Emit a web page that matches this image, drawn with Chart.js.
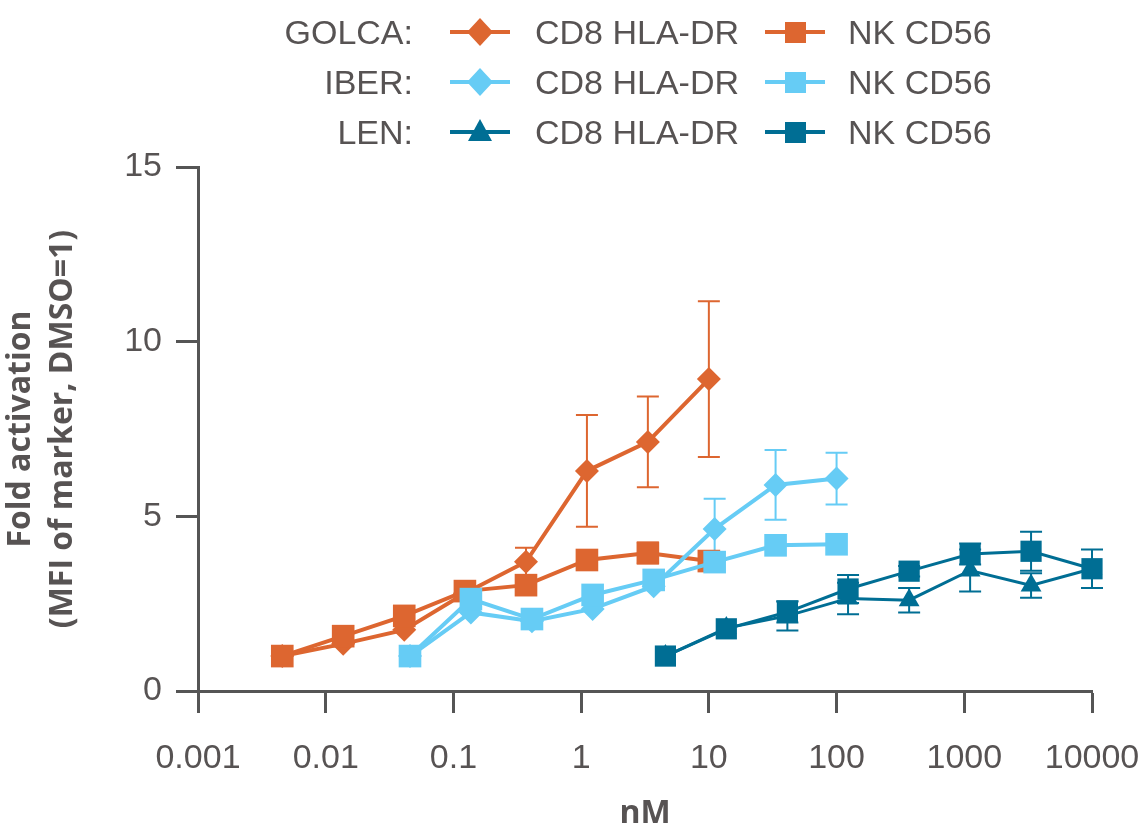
<!DOCTYPE html>
<html>
<head>
<meta charset="utf-8">
<script src="https://cdn.jsdelivr.net/npm/chart.js@4.4.1/dist/chart.umd.min.js"></script>
<style>
  html, body { margin: 0; padding: 0; background: #fff; }
  #wrap { position: relative; width: 1140px; height: 836px; }
  #chart { position: absolute; left: 0; top: 0; }
  #legend { position: absolute; left: 0; top: 0; width: 1140px; height: 160px;
            font-family: 'Liberation Sans', sans-serif; font-size: 34px; color: #575353; }
  .row { position: absolute; left: 0; height: 50px; width: 1140px; }
  .row span, .row svg { position: absolute; }
  .lab { right: 727px; text-align: right; line-height: 50px; top: 0; }
  .t1 { left: 535px; line-height: 50px; top: 0; }
  .t2 { left: 848px; line-height: 50px; top: 0; }
  .m1 { left: 448px; top: 5px; }
  .m2 { left: 763px; top: 5px; }
</style>
</head>
<body>
<div id="wrap">
  <canvas id="chart" width="1140" height="836"></canvas>
  <div id="legend"></div>
</div>
<script>
(function () {
    'use strict';

    // ── Data ─────────────────────────────────────────────
    var golcaConc = [0.00457, 0.0137, 0.0412, 0.123, 0.37, 1.11, 3.33, 10];
    var iberConc = [0.0457, 0.137, 0.412, 1.23, 3.7, 11.1, 33.3, 100];
    var lenConc = [4.57, 13.7, 41.2, 123, 370, 1111, 3333, 10000];

    var golcaCd8 = [1.0, 1.35, 1.75, 2.8, 3.7, 6.3, 7.13, 8.93];
    var golcaCd8Err = [0, 0, 0, 0, 0.4, 1.6, 1.3, 2.23];
    var golcaNk = [1.0, 1.57, 2.15, 2.86, 3.03, 3.75, 3.95, 3.72];
    var golcaNkErr = [0, 0, 0, 0, 0, 0, 0.3, 0];

    var iberCd8 = [1.0, 2.25, 2.0, 2.35, 3.0, 4.64, 5.9, 6.08];
    var iberCd8Err = [0, 0, 0, 0, 0, 0.86, 1.0, 0.74];
    var iberNk = [1.0, 2.63, 2.06, 2.75, 3.18, 3.69, 4.17, 4.2];
    var iberNkErr = [0, 0, 0, 0, 0, 0, 0, 0];

    var lenCd8 = [1.0, 1.8, 2.15, 2.65, 2.6, 3.45, 3.02, 3.5];
    var lenCd8Err = [0, 0, 0.42, 0.45, 0.35, 0.6, 0.35, 0];
    var lenNk = [1.0, 1.78, 2.26, 2.92, 3.43, 3.92, 4.0, 3.5];
    var lenNkErr = [0, 0, 0.3, 0.4, 0.15, 0.3, 0.56, 0.55];

    var xTicks = [0.001, 0.01, 0.1, 1, 10, 100, 1000, 10000];
    var xTickLabels = ['0.001', '0.01', '0.1', '1', '10', '100', '1000', '10000'];
    var yTicks = [0, 5, 10, 15];

    var drugs = ['GOLCA:', 'IBER:', 'LEN:'];
    var markers = ['CD8 HLA-DR', 'NK CD56'];

    var orange = '#dd6630';
    var lightBlue = '#66ccf5';
    var teal = '#006e94';
    var axisColor = '#555555';
    var textColor = '#575353';

    var plain = "'Liberation Sans', sans-serif";
    var bold = "'Open Sans', 'DejaVu Sans', sans-serif";

    function pts(xs, ys) {
        return xs.map(function (x, i) { return { x: x, y: ys[i] }; });
    }

    function series(label, xs, ys, errs, color, style, radius, width, order) {
        return {
            label: label,
            data: pts(xs, ys),
            errors: errs,
            borderColor: color,
            backgroundColor: color,
            pointBackgroundColor: color,
            pointBorderColor: color,
            pointBorderWidth: 0,
            pointStyle: style,
            pointRadius: radius,
            pointHoverRadius: radius,
            borderWidth: width,
            tension: 0,
            clip: false,
            order: order
        };
    }

    var datasets = [
        series('GOLCA CD8 HLA-DR', golcaConc, golcaCd8, golcaCd8Err, orange, 'rectRot', 12, 4, 6),
        series('GOLCA NK CD56', golcaConc, golcaNk, golcaNkErr, orange, 'rect', 16, 4, 5),
        series('IBER CD8 HLA-DR', iberConc, iberCd8, iberCd8Err, lightBlue, 'rectRot', 12, 4, 4),
        series('IBER NK CD56', iberConc, iberNk, iberNkErr, lightBlue, 'rect', 16, 4, 3),
        series('LEN CD8 HLA-DR', lenConc, lenCd8, lenCd8Err, teal, 'triangle', 12, 3, 2),
        series('LEN NK CD56', lenConc, lenNk, lenNkErr, teal, 'rect', 15, 3, 1)
    ];

    // error bars drawn through the chart's own scales
    var errorBars = {
        id: 'errorBars',
        beforeDatasetsDraw: function (chart) {
            var ctx = chart.ctx;
            var xs = chart.scales.x, ys = chart.scales.y;
            ctx.save();
            chart.data.datasets.forEach(function (ds) {
                ctx.strokeStyle = ds.borderColor;
                ctx.lineWidth = 2;
                ds.data.forEach(function (p, i) {
                    var e = ds.errors[i];
                    if (!e) return;
                    var px = xs.getPixelForValue(p.x);
                    var top = ys.getPixelForValue(p.y + e);
                    var bot = ys.getPixelForValue(p.y - e);
                    ctx.beginPath();
                    ctx.moveTo(px, top); ctx.lineTo(px, bot);
                    ctx.moveTo(px - 11, top); ctx.lineTo(px + 11, top);
                    ctx.moveTo(px - 11, bot); ctx.lineTo(px + 11, bot);
                    ctx.stroke();
                });
            });
            ctx.restore();
        }
    };

    new Chart(document.getElementById('chart').getContext('2d'), {
        type: 'line',
        data: { datasets: datasets },
        options: {
            responsive: false,
            animation: false,
            layout: { autoPadding: false, padding: { top: 167, right: 0, bottom: 4, left: 0 } },
            scales: {
                x: {
                    type: 'logarithmic',
                    min: 0.001,
                    max: 10000,
                    afterBuildTicks: function (s) {
                        s.ticks = xTicks.map(function (v) { return { value: v }; });
                    },
                    // fixed band under the plot for ticks, labels and title
                    afterFit: function (s) {
                        s.height = 141;
                        s.paddingRight = 48;
                    },
                    ticks: {
                        autoSkip: false,
                        maxRotation: 0,
                        color: textColor,
                        padding: 25,
                        font: { family: plain, size: 34 },
                        callback: function (v, i) { return xTickLabels[i]; }
                    },
                    grid: { drawOnChartArea: false, tickLength: 22, tickWidth: 3, tickColor: axisColor },
                    border: { color: axisColor, width: 3 },
                    title: {
                        display: true, text: 'nM', color: textColor,
                        font: { family: bold, size: 32, weight: 'bold', lineHeight: 1.15 },
                        padding: { top: 0, bottom: 0 }
                    }
                },
                y: {
                    min: 0,
                    max: 15,
                    afterBuildTicks: function (s) {
                        s.ticks = yTicks.map(function (v) { return { value: v }; });
                    },
                    afterFit: function (s) {
                        s.width = 198;
                    },
                    ticks: {
                        color: textColor,
                        padding: 14,
                        font: { family: plain, size: 34 }
                    },
                    grid: { drawOnChartArea: false, tickLength: 22, tickWidth: 3, tickColor: axisColor },
                    border: { color: axisColor, width: 3 },
                    title: {
                        display: true,
                        text: ['Fold activation', '(MFI of marker, DMSO=1)'],
                        color: textColor,
                        font: { family: bold, size: 32, weight: 'bold', lineHeight: 1.32 },
                        padding: { top: 0, bottom: 0 }
                    }
                }
            },
            plugins: {
                legend: { display: false },
                tooltip: { enabled: false }
            }
        },
        plugins: [errorBars]
    });

    // ── Legend (HTML) ────────────────────────────────────
    var colors = [orange, lightBlue, teal];
    var shapes = [['diamond', 'square'], ['diamond', 'square'], ['triangle', 'square']];

    function markerSvg(color, shape) {
        var s = '<svg width="64" height="40" viewBox="0 0 64 40">'
            + '<line x1="2" y1="20" x2="62" y2="20" stroke="' + color + '" stroke-width="4"/>';
        if (shape === 'diamond') s += '<polygon points="32,6 45,20 32,34 19,20" fill="' + color + '"/>';
        if (shape === 'square') s += '<rect x="22" y="10" width="21" height="21" fill="' + color + '"/>';
        if (shape === 'triangle') s += '<polygon points="32,7 44,29 20,29" fill="' + color + '"/>';
        return s + '</svg>';
    }

    var legendEl = document.getElementById('legend');
    drugs.forEach(function (d, r) {
        var row = '<div class="row" style="top:' + (7 + r * 50) + 'px">'
            + '<span class="lab">' + d + '</span>'
            + '<span class="m1">' + markerSvg(colors[r], shapes[r][0]) + '</span>'
            + '<span class="t1">' + markers[0] + '</span>'
            + '<span class="m2">' + markerSvg(colors[r], shapes[r][1]) + '</span>'
            + '<span class="t2">' + markers[1] + '</span>'
            + '</div>';
        legendEl.insertAdjacentHTML('beforeend', row);
    });
})();
</script>
</body>
</html>
